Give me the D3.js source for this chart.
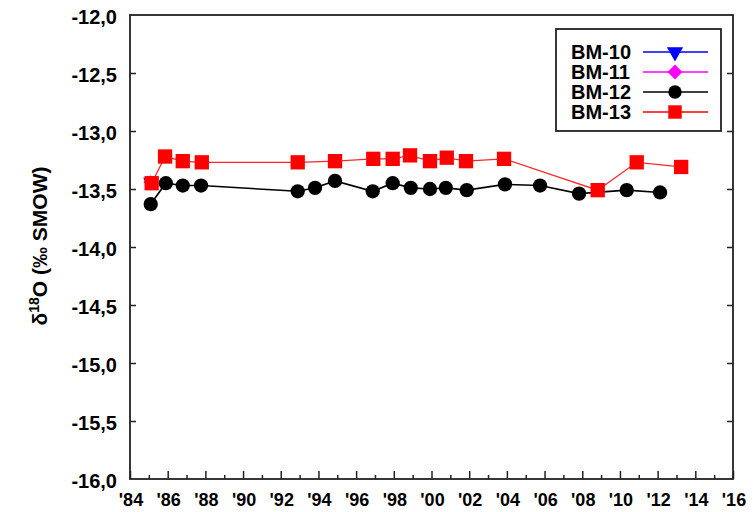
<!DOCTYPE html>
<html>
<head>
<meta charset="utf-8">
<script src="https://cdn.jsdelivr.net/npm/d3@7"></script>
<style>
  html, body { margin: 0; padding: 0; background: #fff; }
  text { font-family: "Liberation Sans", Arial, sans-serif; font-weight: bold; }
</style>
</head>
<body>
<svg id="chart" width="756" height="512"></svg>
<script>
// ---- data ----
const seriesNames = ["BM-10", "BM-11", "BM-12", "BM-13"];
const seriesColors = ["#0000ff", "#ff00ff", "#000000", "#ff0000"];

const yearsBM10 = [1985.1];
const valuesBM10 = [-13.44];

const yearsBM11 = [1985.08];
const valuesBM11 = [-13.44];

const yearsBM12 = [1985.1, 1985.9, 1986.8, 1987.77, 1992.9, 1993.82, 1994.88, 1996.88, 1997.94, 1998.9, 1999.92, 2000.76, 2001.87, 2003.9, 2005.76, 2007.83, 2010.36, 2012.13];
const valuesBM12 = [-13.63, -13.45, -13.47, -13.47, -13.52, -13.49, -13.43, -13.52, -13.45, -13.49, -13.50, -13.49, -13.51, -13.46, -13.47, -13.54, -13.51, -13.53];

const yearsBM13 = [1985.15, 1985.86, 1986.8, 1987.81, 1992.9, 1994.88, 1996.91, 1997.94, 1998.86, 1999.92, 2000.81, 2001.83, 2003.85, 2008.82, 2010.89, 2013.25];
const valuesBM13 = [-13.45, -13.22, -13.26, -13.27, -13.27, -13.26, -13.24, -13.24, -13.21, -13.26, -13.23, -13.26, -13.24, -13.51, -13.27, -13.31];

const xTickYears = [1984, 1986, 1988, 1990, 1992, 1994, 1996, 1998, 2000, 2002, 2004, 2006, 2008, 2010, 2012, 2014, 2016];
const xTickLabels = ["'84", "'86", "'88", "'90", "'92", "'94", "'96", "'98", "'00", "'02", "'04", "'06", "'08", "'10", "'12", "'14", "'16"];
const xMinorYears = [1985, 1987, 1989, 1991, 1993, 1995, 1997, 1999, 2001, 2003, 2005, 2007, 2009, 2011, 2013, 2015];
const yTickValues = [-12.0, -12.5, -13.0, -13.5, -14.0, -14.5, -15.0, -15.5, -16.0];
const yTickLabels = ["-12,0", "-12,5", "-13,0", "-13,5", "-14,0", "-14,5", "-15,0", "-15,5", "-16,0"];

// ---- layout ----
const svg = d3.select("#chart");
const L = 130, R = 733, T = 15, B = 479;
const x = d3.scaleLinear().domain([1984, 2016]).range([L, R]);
const y = d3.scaleLinear().domain([-12, -16]).range([T, B]);
const frameColor = "#222";

// ticks (inside)
const gx = svg.append("g").attr("transform", `translate(0,${B})`);
gx.call(d3.axisTop(x).tickValues(xTickYears).tickSize(8).tickFormat(""))
  .call(g => g.select(".domain").remove());
const gxm = svg.append("g").attr("transform", `translate(0,${B})`);
gxm.call(d3.axisTop(x).tickValues(xMinorYears).tickSize(4).tickFormat(""))
  .call(g => g.select(".domain").remove());
const gyl = svg.append("g").attr("transform", `translate(${L},0)`);
gyl.call(d3.axisRight(y).tickValues(yTickValues.slice(1, -1)).tickSize(6).tickFormat(""))
  .call(g => g.select(".domain").remove());
const gyr = svg.append("g").attr("transform", `translate(${R},0)`);
gyr.call(d3.axisLeft(y).tickValues(yTickValues.slice(1, -1)).tickSize(6).tickFormat(""))
  .call(g => g.select(".domain").remove());
svg.selectAll(".tick line").attr("stroke", frameColor).attr("stroke-width", 1.5);

// tick labels
svg.append("g").selectAll("text").data(xTickYears).join("text")
  .attr("x", d => x(d) + 1)
  .attr("y", 506)
  .attr("text-anchor", "middle")
  .attr("font-size", 18)
  .attr("fill", "#000")
  .text((d, i) => xTickLabels[i]);

svg.append("g").selectAll("text").data(yTickValues).join("text")
  .attr("x", 117)
  .attr("y", d => y(d) + 9)
  .attr("text-anchor", "end")
  .attr("font-size", 20)
  .attr("fill", "#000")
  .text((d, i) => yTickLabels[i]);

// y axis title
const yt = svg.append("text")
  .attr("transform", "translate(47,246) rotate(-90)")
  .attr("text-anchor", "middle")
  .attr("font-size", 21)
  .attr("fill", "#000");
yt.append("tspan").text("δ");
yt.append("tspan").attr("font-size", 14).attr("dy", -8).text("18");
yt.append("tspan").attr("dy", 8).text("O (‰ SMOW)");

// series
const series = [
  { name: seriesNames[0], color: seriesColors[0], xs: yearsBM10, ys: valuesBM10, shape: "tri" },
  { name: seriesNames[1], color: seriesColors[1], xs: yearsBM11, ys: valuesBM11, shape: "dia" },
  { name: seriesNames[2], color: seriesColors[2], xs: yearsBM12, ys: valuesBM12, shape: "circ" },
  { name: seriesNames[3], color: seriesColors[3], xs: yearsBM13, ys: valuesBM13, shape: "sq" }
];

const plotSize = { tri: 100, dia: 95, circ: 160, sq: 205 };
const legendSize = { tri: 115, dia: 110, circ: 140, sq: 180 };
function drawMarker(g, shape, color, px, py, size) {
  const type = shape === "tri" ? d3.symbolTriangle : shape === "circ" ? d3.symbolCircle : d3.symbolSquare;
  let tr = `translate(${px},${py})`;
  if (shape === "tri") tr += " rotate(180)";
  if (shape === "dia") tr += " rotate(45)";
  g.append("path").attr("d", d3.symbol().type(type).size(size)()).attr("transform", tr).attr("fill", color);
}

const line = d3.line().x(d => x(d[0])).y(d => y(d[1]));
series.forEach(s => {
  const pts = s.xs.map((v, i) => [v, s.ys[i]]);
  const g = svg.append("g");
  if (pts.length > 1) {
    g.append("path").datum(pts).attr("d", line)
      .attr("fill", "none").attr("stroke", s.color)
      .attr("stroke-width", s.shape === "sq" ? 1.3 : 1.6)
      .attr("stroke-opacity", s.shape === "sq" ? 0.85 : 1);
  }
  pts.forEach(p => drawMarker(g, s.shape, s.color, x(p[0]), y(p[1]), plotSize[s.shape]));
});

// frame
svg.append("rect").attr("x", L).attr("y", T).attr("width", R - L).attr("height", B - T)
  .attr("fill", "none").attr("stroke", frameColor).attr("stroke-width", 1.8);

// legend
const lg = svg.append("g");
lg.append("rect").attr("x", 556).attr("y", 29).attr("width", 165).attr("height", 102)
  .attr("fill", "#fff").attr("stroke", frameColor).attr("stroke-width", 1.8);
const rowY = [52, 72, 92, 112];
series.forEach((s, i) => {
  lg.append("text").attr("x", 571).attr("y", rowY[i] + 7).attr("font-size", 20)
    .attr("fill", "#000").text(s.name);
  lg.append("line").attr("x1", 643).attr("x2", 708).attr("y1", rowY[i]).attr("y2", rowY[i])
    .attr("stroke", s.color).attr("stroke-width", 1.6);
  drawMarker(lg, s.shape, s.color, 675, rowY[i], legendSize[s.shape]);
});
</script>
</body>
</html>
